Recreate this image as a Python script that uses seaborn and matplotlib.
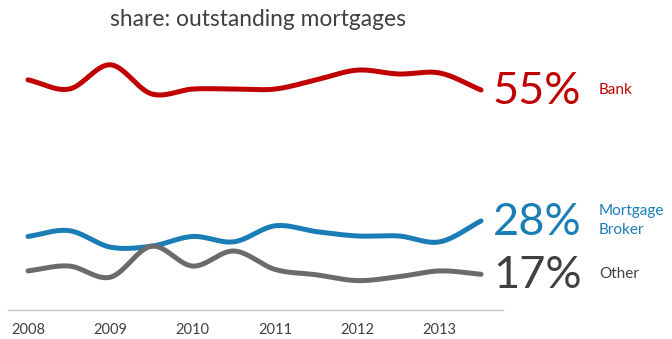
import numpy as np
import pandas as pd
import matplotlib
matplotlib.use("Agg")
import matplotlib.pyplot as plt
import seaborn as sns

# Half-yearly observations, 2008 to mid-2013
periods = [2008.0, 2008.5, 2009.0, 2009.5, 2010.0, 2010.5,
           2011.0, 2011.5, 2012.0, 2012.5, 2013.0, 2013.5]
bank = [57.1, 55.2, 60.2, 54.2, 55.2, 55.2, 55.2, 57.1, 59.1, 58.3, 58.5, 55.0]
broker = [24.8, 26.0, 22.6, 22.8, 24.8, 23.7, 27.0, 25.8, 24.9, 24.9, 23.7, 28.0]
other = [17.7, 18.7, 16.4, 22.8, 18.7, 21.8, 18.0, 16.9, 15.7, 16.5, 17.7, 17.0]

series_names = ["Bank", "Mortgage\nBroker", "Other"]
series_values = [bank, broker, other]
line_colors = ["#C00000", "#1A7DB6", "#6B6B6B"]
value_colors = ["#C00000", "#1A7DB6", "#404040"]
tick_years = [2008, 2009, 2010, 2011, 2012, 2013]


def smooth(x, y, steps=30):
    """Catmull-Rom spline through the points, like a smoothed office line."""
    x = np.asarray(x, float)
    y = np.asarray(y, float)
    px = np.concatenate([[2 * x[0] - x[1]], x, [2 * x[-1] - x[-2]]])
    py = np.concatenate([[2 * y[0] - y[1]], y, [2 * y[-1] - y[-2]]])
    xs, ys = [], []
    t = np.linspace(0, 1, steps, endpoint=False)
    for i in range(1, len(px) - 2):
        for arr, out in ((px, xs), (py, ys)):
            p0, p1, p2, p3 = arr[i - 1], arr[i], arr[i + 1], arr[i + 2]
            out.extend(0.5 * ((2 * p1) + (-p0 + p2) * t
                              + (2 * p0 - 5 * p1 + 4 * p2 - p3) * t ** 2
                              + (-p0 + 3 * p1 - 3 * p2 + p3) * t ** 3))
    xs.append(x[-1])
    ys.append(y[-1])
    return np.array(xs), np.array(ys)


frames = []
for name, vals in zip(series_names, series_values):
    sx, sy = smooth(periods, vals)
    frames.append(pd.DataFrame({"period": sx, "share": sy, "series": name}))
data = pd.concat(frames, ignore_index=True)

sns.set_theme(style="white")
plt.rcParams["font.family"] = ["Lato", "DejaVu Sans"]

W, H = 672, 339
fig = plt.figure(figsize=(W / 100, H / 100), dpi=100)
ax = fig.add_axes([8 / W, (H - 310) / H, 495 / W, 270 / H])

sns.lineplot(data=data, x="period", y="share", hue="series",
             palette=dict(zip(series_names, line_colors)),
             linewidth=3.6, legend=False, sort=False, ax=ax,
             solid_capstyle="round")

ax.set_xlim(2007.757, 2013.767)
ax.set_ylim(55 - 220 / 4.85, 55 + 50 / 4.85)
ax.set_xticks(tick_years)
ax.set_xticklabels([str(y) for y in tick_years], fontsize=10.5, color="#404040")
ax.tick_params(axis="x", length=0, pad=9)
ax.set_yticks([])
ax.set_xlabel("")
ax.set_ylabel("")
for side in ("top", "right", "left"):
    ax.spines[side].set_visible(False)
ax.spines["bottom"].set_color("#C8C8C8")
ax.spines["bottom"].set_linewidth(1.0)

# End-of-period share and series name to the right of each line
for name, vals, vc in zip(series_names, series_values, value_colors):
    last = vals[-1]
    ax.annotate(f"{last:.0f}%", xy=(periods[-1], last), xytext=(8.5, -1),
                textcoords="offset points", va="center", ha="left",
                fontsize=32.5, color=vc, annotation_clip=False)
    ax.annotate(name, xy=(periods[-1], last), xytext=(85, 0),
                textcoords="offset points", va="center", ha="left",
                fontsize=11, color=vc, linespacing=1.45,
                annotation_clip=False)

fig.text(258 / W, 1 - 19 / H, "share: outstanding mortgages",
         ha="center", va="center", fontsize=16.4, color="#404040")

fig.savefig("out.png", dpi=100)
